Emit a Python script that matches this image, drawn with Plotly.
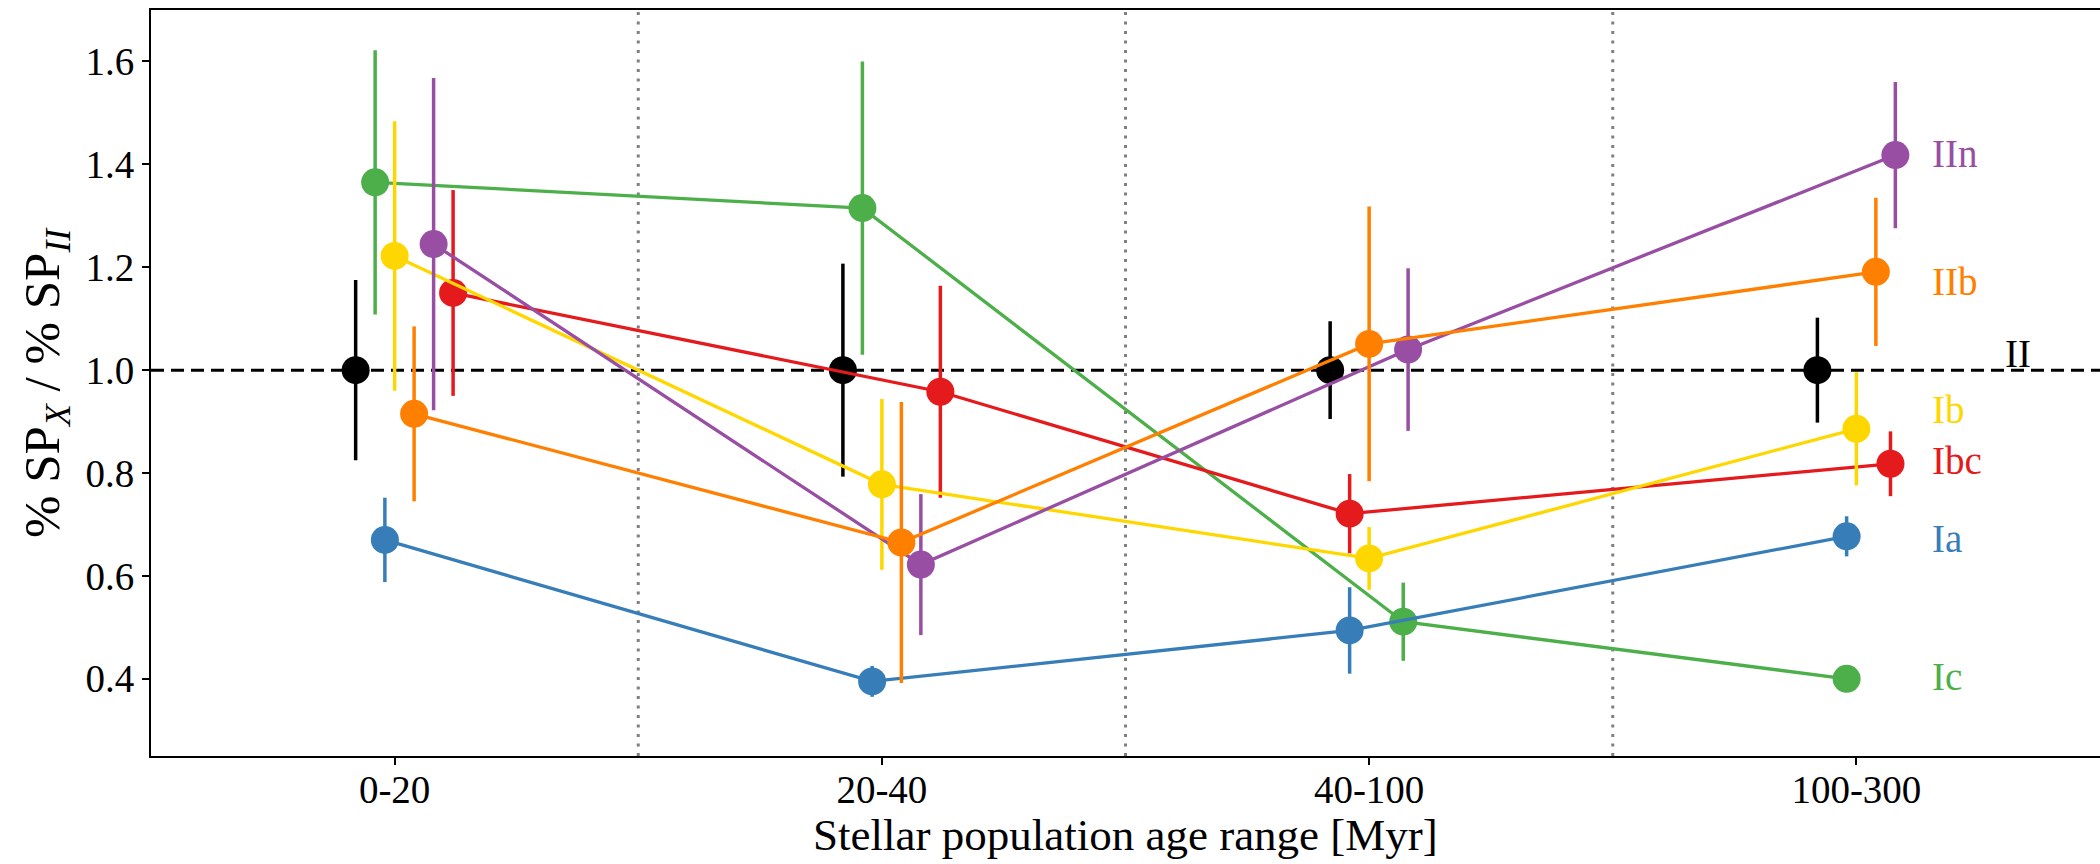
import plotly.graph_objects as go

# ---------------- data ----------------
categories = ["0-20", "20-40", "40-100", "100-300"]

II_vals = [1.0, 1.0, 1.0, 1.0]
II_err = [0.175, 0.207, 0.095, 0.102]
II_dx = [-0.08, -0.08, -0.08, -0.08]

Ic_vals = [1.365, 1.315, 0.511, 0.400]
Ic_err = [0.257, 0.285, 0.076, 0.0]
Ic_dx = [-0.04, -0.04, 0.07, -0.02]

Ia_vals = [0.670, 0.395, 0.494, 0.677]
Ia_err = [0.082, 0.030, 0.084, 0.039]
Ia_dx = [-0.02, -0.02, -0.04, -0.02]

Ibc_vals = [1.150, 0.958, 0.721, 0.818]
Ibc_err = [0.200, 0.206, 0.077, 0.063]
Ibc_dx = [0.12, 0.12, -0.04, 0.07]

Ib_vals = [1.222, 0.778, 0.634, 0.886]
Ib_err = [0.262, 0.166, 0.061, 0.110]
Ib_dx = [0.0, 0.0, 0.0, 0.0]

IIn_vals = [1.245, 0.622, 1.040, 1.418]
IIn_err = [0.323, 0.137, 0.158, 0.142]
IIn_dx = [0.08, 0.08, 0.08, 0.08]

IIb_vals = [0.915, 0.665, 1.051, 1.191]
IIb_err = [0.170, 0.273, 0.267, 0.144]
IIb_dx = [0.04, 0.04, 0.0, 0.04]

y_tick_vals = [0.4, 0.6, 0.8, 1.0, 1.2, 1.4, 1.6]

# ---------------- styles ----------------
FONT = "Liberation Serif"
colors = {
    "II": "#000000",
    "Ic": "#4daf4a",
    "Ia": "#377eb8",
    "Ibc": "#e41a1c",
    "Ib": "#ffd700",
    "IIn": "#984ea3",
    "IIb": "#ff7f00",
}
# label placement (x offset from last category, y in data units)
label_pos = {
    "IIn": (0.152, 1.422),
    "IIb": (0.152, 1.173),
    "II": (0.30, 1.033),
    "Ib": (0.152, 0.924),
    "Ibc": (0.152, 0.824),
    "Ia": (0.152, 0.673),
    "Ic": (0.152, 0.404),
}

series = [
    ("II", II_vals, II_err, II_dx, False),
    ("Ic", Ic_vals, Ic_err, Ic_dx, True),
    ("Ia", Ia_vals, Ia_err, Ia_dx, True),
    ("Ibc", Ibc_vals, Ibc_err, Ibc_dx, True),
    ("Ib", Ib_vals, Ib_err, Ib_dx, True),
    ("IIn", IIn_vals, IIn_err, IIn_dx, True),
    ("IIb", IIb_vals, IIb_err, IIb_dx, True),
]

fig = go.Figure()
for name, vals, errs, dxs, connect in series:
    xs = [i + d for i, d in enumerate(dxs)]
    c = colors[name]
    fig.add_trace(go.Scatter(
        x=xs, y=vals,
        mode="lines+markers" if connect else "markers",
        line=dict(color=c, width=3.3),
        marker=dict(color=c, size=28, line=dict(width=0)),
        error_y=dict(type="data", array=errs, visible=True,
                     color=c, thickness=3.5, width=0),
        name=name, showlegend=False, hoverinfo="skip",
    ))

shapes = []
# dotted separators between categories
for i in range(len(categories) - 1):
    shapes.append(dict(type="line", xref="x", yref="paper",
                       x0=i + 0.5, x1=i + 0.5, y0=0, y1=1,
                       line=dict(color="#808080", width=3, dash="3px,6.5px"),
                       layer="below"))
# reference line for II
ref_y = sum(II_vals) / len(II_vals)
shapes.append(dict(type="line", xref="paper", yref="y",
                   x0=0, x1=1, y0=ref_y, y1=ref_y,
                   line=dict(color="#000000", width=3, dash="13px,7px"),
                   layer="below"))

annotations = []
last = len(categories) - 1
for name, (dx, ly) in label_pos.items():
    annotations.append(dict(x=last + dx, y=ly, xref="x", yref="y",
                            text=name, showarrow=False,
                            xanchor="left", yanchor="middle",
                            font=dict(family=FONT, size=39, color=colors[name])))

# axis titles
annotations.append(dict(x=0.5, y=0, xref="paper", yref="paper",
                        yshift=-79, xanchor="center", yanchor="middle",
                        text="Stellar population age range [Myr]", showarrow=False,
                        font=dict(family=FONT, size=45, color="black")))
annotations.append(dict(x=0, y=0.5, xref="paper", yref="paper",
                        xshift=-105, xanchor="center", yanchor="middle",
                        textangle=-90,
                        text="% SP<sub><i>X</i></sub> / % SP<sub><i>II</i></sub>",
                        showarrow=False,
                        font=dict(family=FONT, size=51, color="black")))

fig.update_layout(
    width=2100, height=864,
    margin=dict(l=151, r=0, t=10, b=108, pad=0),
    paper_bgcolor="white", plot_bgcolor="white",
    font=dict(family=FONT, size=39, color="black"),
    shapes=shapes, annotations=annotations,
    showlegend=False,
)
fig.update_xaxes(
    range=[-0.5, 3.5],
    tickmode="array", tickvals=list(range(len(categories))), ticktext=categories,
    showgrid=False, zeroline=False,
    showline=True, linecolor="black", linewidth=2, mirror=True,
    ticks="outside", ticklen=7, tickwidth=2, tickcolor="black",
    ticklabelstandoff=-9,
    tickfont=dict(family=FONT, size=39, color="black"),
)
fig.update_yaxes(
    range=[0.25, 1.70],
    tickmode="array", tickvals=y_tick_vals,
    ticktext=[f"{v:.1f}" for v in y_tick_vals],
    showgrid=False, zeroline=False,
    showline=True, linecolor="black", linewidth=2, mirror=False,
    ticks="outside", ticklen=7, tickwidth=2, tickcolor="black",
    tickfont=dict(family=FONT, size=39, color="black"),
)

fig.write_html("out.html", config={"displayModeBar": False},
               post_script="document.body.style.margin='0';document.body.style.padding='0';")
